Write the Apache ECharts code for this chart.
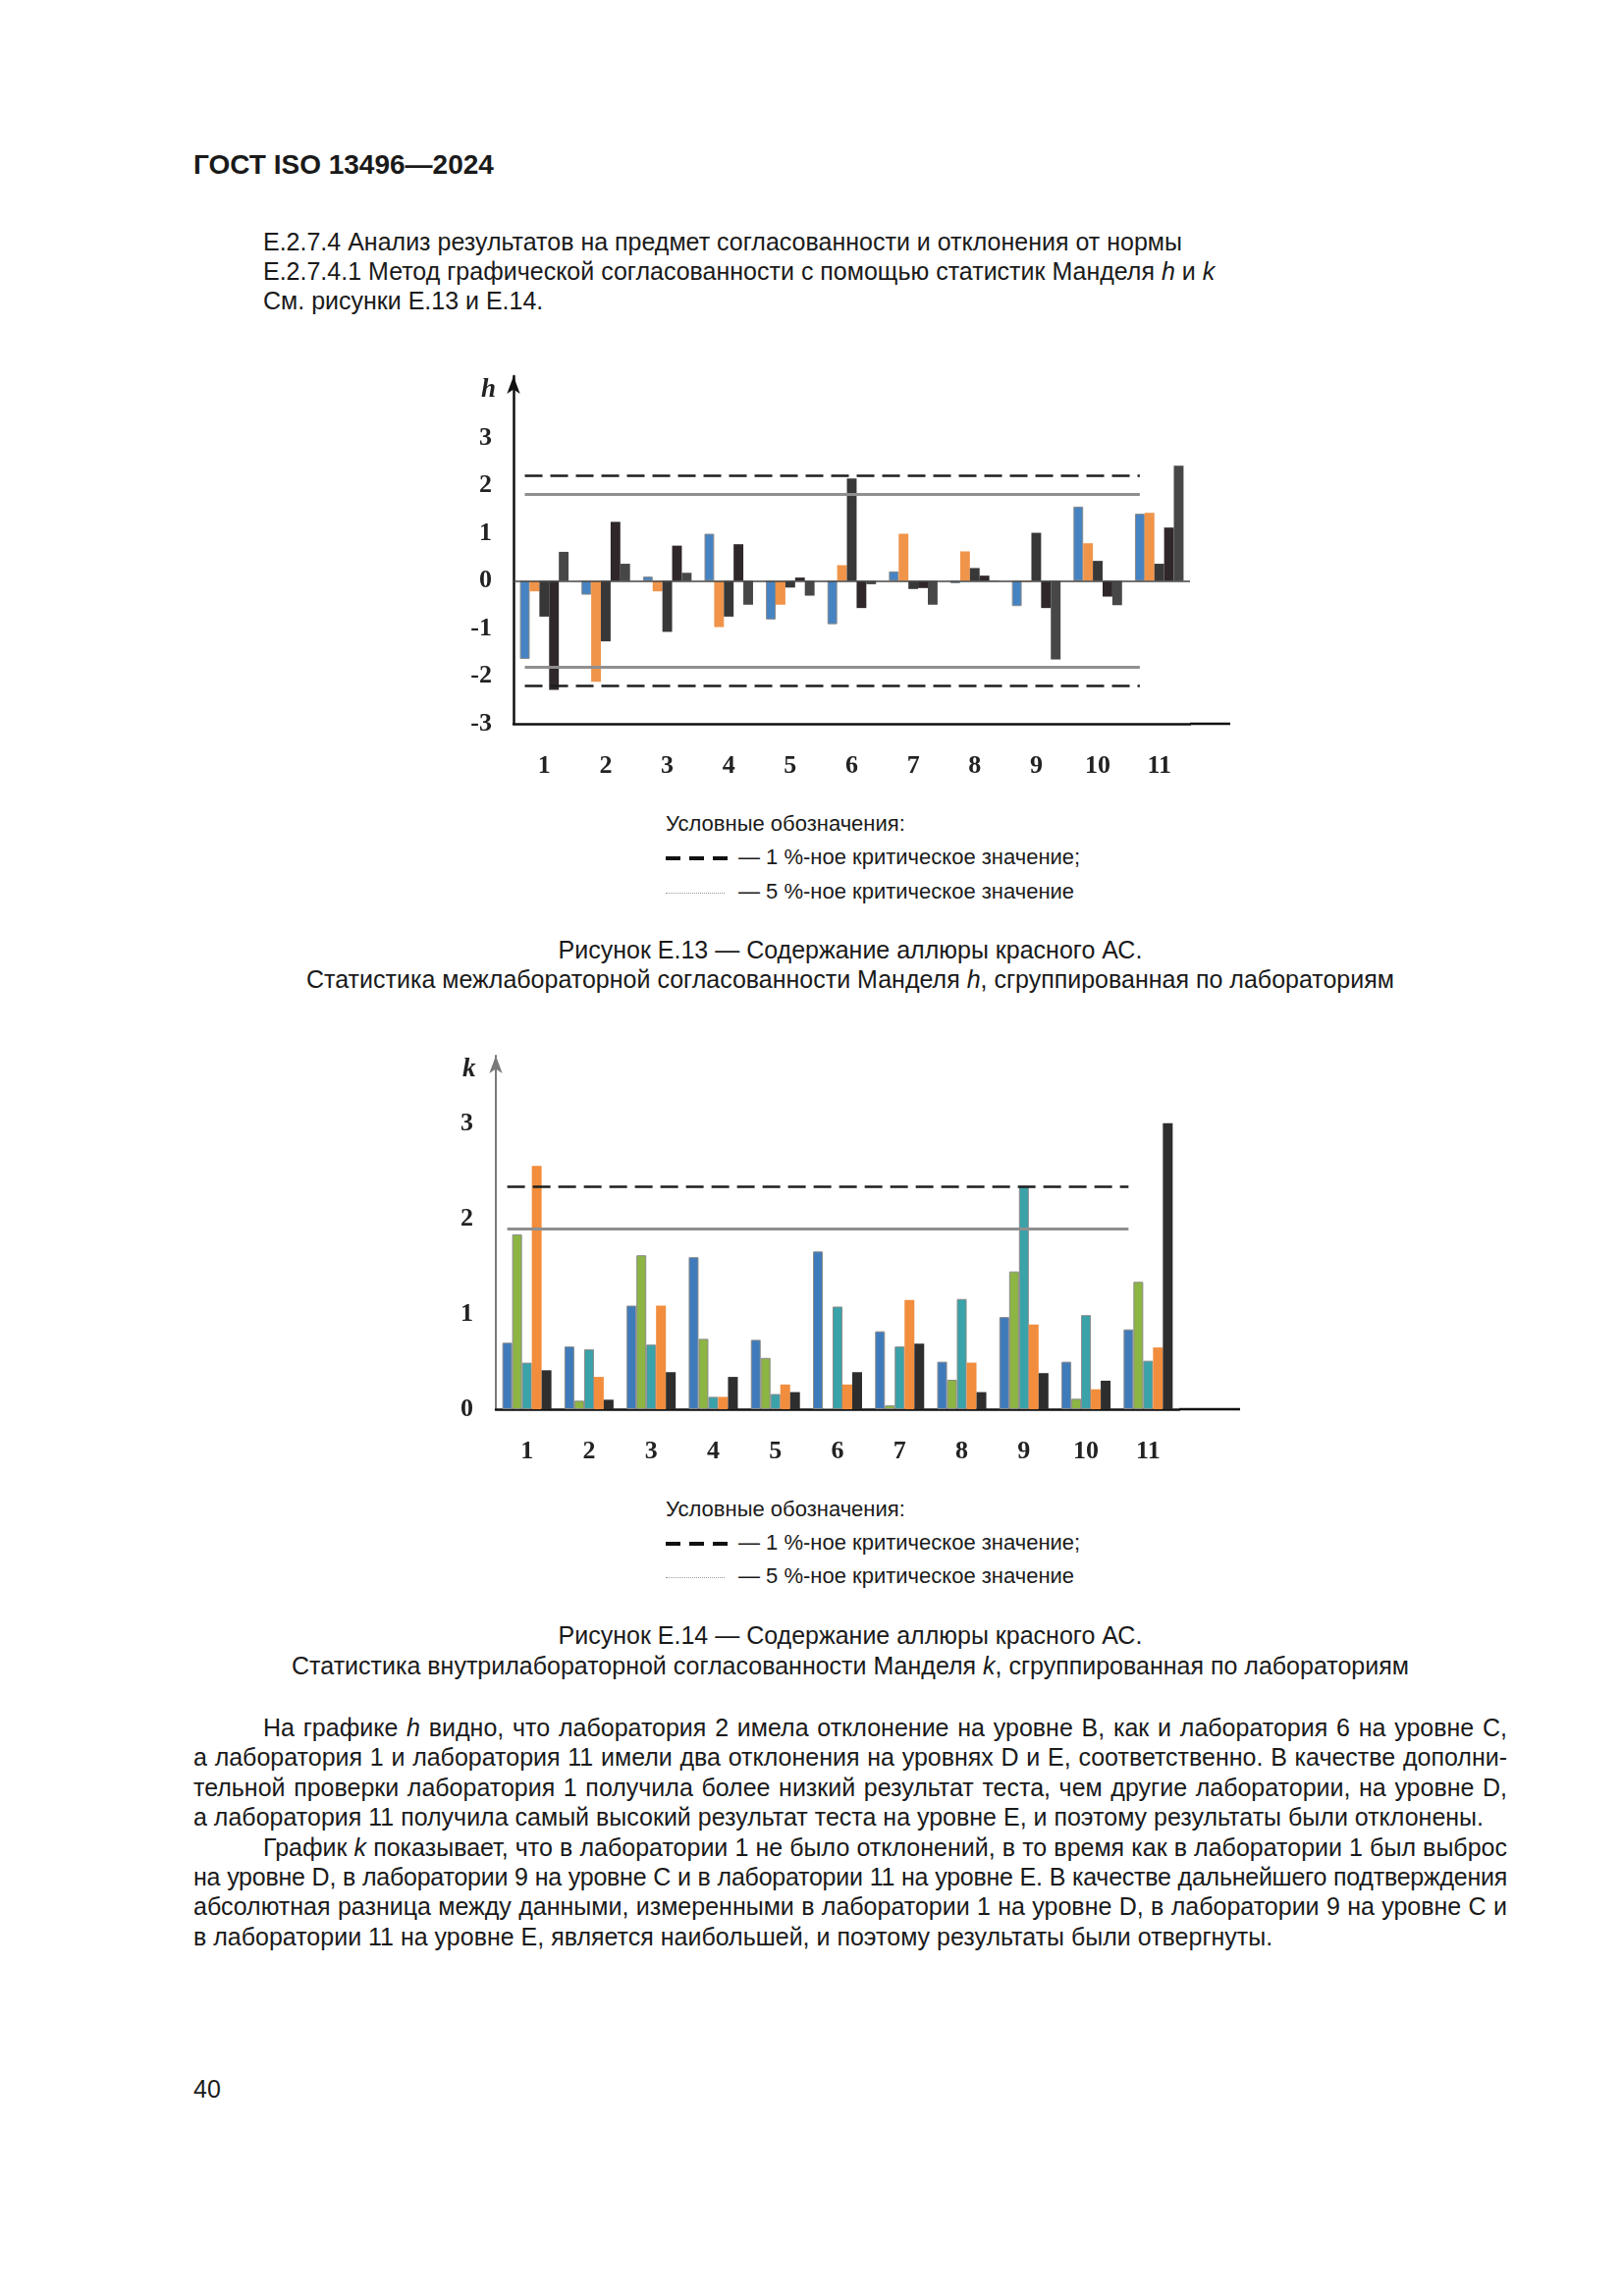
<!DOCTYPE html>
<html lang="ru">
<head>
<meta charset="utf-8">
<title>ГОСТ ISO 13496—2024, с. 40</title>
<script src="https://cdn.jsdelivr.net/npm/echarts@6/dist/echarts.min.js"></script>
<style>
  html, body { margin: 0; padding: 0; background: #fff; }
  .page {
    position: relative;
    width: 1653px;
    height: 2338px;
    font-family: "Liberation Sans", Arial, sans-serif;
    font-size: 25px;
    line-height: 30px;
    color: #1a1a1a;
  }
  .abs { position: absolute; white-space: nowrap; }
  .hdr { font-weight: bold; font-size: 28px; }
  .legend { font-size: 22px; }
  .caption { left: 197px; width: 1338px; text-align: center; }
  .jl { left: 197px; width: 1338px; text-align: justify; text-align-last: justify; }
  .last { text-align: left; text-align-last: left; }
  .ind { text-indent: 71px; }
  .tight { letter-spacing: -0.25px; }
  .chart { position: absolute; width: 860px; height: 450px; }
  .dash {
    display: inline-block; width: 64px; height: 4px; vertical-align: middle;
    background: repeating-linear-gradient(to right, #111 0 15px, transparent 15px 24px);
    margin-right: 10px;
  }
  .dots {
    display: inline-block; width: 60px; height: 0; vertical-align: middle;
    border-top: 1px dotted #9a9a9a; margin-right: 14px;
  }
  i { font-style: italic; }
</style>
</head>
<body>
<div class="page">
  <div class="abs hdr" style="left:197px; top:153px;">ГОСТ ISO 13496—2024</div>

  <div class="abs" style="left:268px; top:231px;">Е.2.7.4 Анализ результатов на предмет согласованности и отклонения от нормы</div>
  <div class="abs" style="left:268px; top:261px;">Е.2.7.4.1 Метод графической согласованности с помощью статистик Манделя <i>h</i> и <i>k</i></div>
  <div class="abs" style="left:268px; top:291px;">См. рисунки Е.13 и Е.14.</div>

  <div id="chartH" class="chart" style="left:440px; top:360px;"></div>

  <div class="abs legend" style="left:678px; top:824px;">Условные обозначения:</div>
  <div class="abs legend" style="left:678px; top:858px;"><span class="dash"></span>— 1 %-ное критическое значение;</div>
  <div class="abs legend" style="left:678px; top:893px;"><span class="dots"></span>— 5 %-ное критическое значение</div>

  <div class="abs caption" style="top:952px;">Рисунок Е.13 — Содержание аллюры красного АС.</div>
  <div class="abs caption" style="top:982px;">Статистика межлабораторной согласованности Манделя <i>h</i>, сгруппированная по лабораториям</div>

  <div id="chartK" class="chart" style="left:440px; top:1050px;"></div>

  <div class="abs legend" style="left:678px; top:1522px;">Условные обозначения:</div>
  <div class="abs legend" style="left:678px; top:1556px;"><span class="dash"></span>— 1 %-ное критическое значение;</div>
  <div class="abs legend" style="left:678px; top:1590px;"><span class="dots"></span>— 5 %-ное критическое значение</div>

  <div class="abs caption" style="top:1650px;">Рисунок Е.14 — Содержание аллюры красного АС.</div>
  <div class="abs caption" style="top:1681px;">Статистика внутрилабораторной согласованности Манделя <i>k</i>, сгруппированная по лабораториям</div>

  <div class="abs jl ind" style="top:1744px;">На графике <i>h</i> видно, что лаборатория 2 имела отклонение на уровне B, как и лаборатория 6 на уровне C,</div>
  <div class="abs jl" style="top:1774px;">а лаборатория 1 и лаборатория 11 имели два отклонения на уровнях D и E, соответственно. В качестве дополни-</div>
  <div class="abs jl" style="top:1805px;">тельной проверки лаборатория 1 получила более низкий результат теста, чем другие лаборатории, на уровне D,</div>
  <div class="abs jl last" style="top:1835px;">а лаборатория 11 получила самый высокий результат теста на уровне E, и поэтому результаты были отклонены.</div>
  <div class="abs jl ind" style="top:1866px;">График <i>k</i> показывает, что в лаборатории 1 не было отклонений, в то время как в лаборатории 1 был выброс</div>
  <div class="abs jl tight" style="top:1896px;">на уровне D, в лаборатории 9 на уровне C и в лаборатории 11 на уровне E. В качестве дальнейшего подтверждения</div>
  <div class="abs jl" style="top:1926px;">абсолютная разница между данными, измеренными в лаборатории 1 на уровне D, в лаборатории 9 на уровне C и</div>
  <div class="abs jl last" style="top:1957px;">в лаборатории 11 на уровне E, является наибольшей, и поэтому результаты были отвергнуты.</div>

  <div class="abs" style="left:197px; top:2112px; font-size:25px;">40</div>
</div>

<script>
// лаборатории
const labs = ['1', '2', '3', '4', '5', '6', '7', '8', '9', '10', '11']

// статистика h по уровням A..E
const hA = [-1.64, -0.29, 0.09, 0.99, -0.81, -0.91, 0.20, -0.05, -0.53, 1.56, 1.41]
const hB = [-0.22, -2.12, -0.22, -0.97, -0.50, 0.33, 0.99, 0.62, -0.02, 0.79, 1.43]
const hC = [-0.75, -1.27, -1.07, -0.75, -0.14, 2.15, -0.17, 0.27, 1.01, 0.42, 0.36]
const hD = [-2.29, 1.24, 0.74, 0.77, 0.07, -0.57, -0.15, 0.11, -0.57, -0.33, 1.12]
const hE = [0.61, 0.36, 0.17, -0.50, -0.31, -0.07, -0.50, -0.01, -1.65, -0.51, 2.42]
const hCrit1 = 2.21
const hCrit5 = 1.81
const hTicks = [-3, -2, -1, 0, 1, 2, 3]

// статистика k по уровням A..E
const kA = [0.70, 0.66, 1.09, 1.60, 0.73, 1.66, 0.82, 0.50, 0.97, 0.50, 0.84]
const kB = [1.84, 0.09, 1.62, 0.74, 0.54, 0.01, 0.04, 0.31, 1.45, 0.11, 1.34]
const kC = [0.49, 0.63, 0.68, 0.13, 0.16, 1.08, 0.66, 1.16, 2.35, 0.99, 0.51]
const kD = [2.56, 0.34, 1.09, 0.13, 0.26, 0.26, 1.15, 0.49, 0.89, 0.21, 0.65]
const kE = [0.41, 0.10, 0.39, 0.34, 0.18, 0.39, 0.69, 0.18, 0.38, 0.30, 3.01]
const kCrit1 = 2.34
const kCrit5 = 1.90
const kTicks = [0, 1, 2, 3]

const axisFont = {
  fontFamily: '"Liberation Serif", "DejaVu Serif", serif',
  fontWeight: 'bold',
  fontSize: 26,
  color: '#222',
}

const dashed = { color: '#1e1e1e', width: 2.5, type: [18, 8] }
const solid = { color: '#8f8f8f', width: 3, type: 'solid' }

function critLines(c1, c5, withNeg) {
  const d = [
    [{ coord: [labs[0], c1], lineStyle: dashed }, { coord: [labs[10], c1] }],
    [{ coord: [labs[0], c5], lineStyle: solid }, { coord: [labs[10], c5] }],
  ]
  if (withNeg) {
    d.push([{ coord: [labs[0], -c1], lineStyle: dashed }, { coord: [labs[10], -c1] }])
    d.push([{ coord: [labs[0], -c5], lineStyle: solid }, { coord: [labs[10], -c5] }])
    d.push({ yAxis: 0, lineStyle: { color: '#444', width: 1.5, type: 'solid' } })
  }
  return {
    silent: true,
    symbol: ['none', 'none'],
    label: { show: false },
    data: d,
  }
}

function barSeries(data, color, border) {
  return {
    type: 'bar',
    data: data,
    barGap: '0%',
    barCategoryGap: '21%',
    itemStyle: {
      color: color,
      borderColor: border || color,
      borderWidth: border ? 1 : 0,
    },
  }
}

// ---- рисунок Е.13 ----
const chartH = echarts.init(document.getElementById('chartH'), null, { renderer: 'canvas' })
const hSeries = [
  barSeries(hA, '#4683c2', '#8a8a8a'),
  barSeries(hB, '#f0944a'),
  barSeries(hC, '#383838'),
  barSeries(hD, '#2f2729'),
  barSeries(hE, '#474747'),
]
hSeries[0].markLine = critLines(hCrit1, hCrit5, true)
hSeries[0].markLine.z = 5

chartH.setOption({
  animation: false,
  grid: { left: 83, top: 23, width: 689, height: 354 },
  xAxis: {
    type: 'category',
    data: labs,
    axisLine: { onZero: false, lineStyle: { color: '#111', width: 2.5 } },
    axisTick: { show: false },
    axisLabel: Object.assign({ margin: 30 }, axisFont),
  },
  yAxis: {
    type: 'value',
    min: hTicks[0],
    max: 4.3,
    interval: 1,
    splitLine: { show: false },
    axisTick: { show: false },
    axisLine: {
      show: true,
      symbol: ['none', 'arrow'],
      symbolSize: [10, 18],
      lineStyle: { color: '#111', width: 2.5 },
    },
    axisLabel: Object.assign({
      margin: 22,
      formatter: v => (hTicks.indexOf(v) >= 0 ? String(v) : ''),
    }, axisFont),
  },
  graphic: [
    { type: 'text', left: 50, top: 24,
      style: { text: 'h', font: 'italic bold 27px "Liberation Serif", serif', fill: '#222' } },
    { type: 'line', shape: { x1: 772, y1: 377, x2: 813, y2: 377 },
      style: { stroke: '#111', lineWidth: 2.5 } },
  ],
  series: hSeries,
})

// ---- рисунок Е.14 ----
const chartK = echarts.init(document.getElementById('chartK'), null, { renderer: 'canvas' })
const kSeries = [
  barSeries(kA, '#3f7bbb', '#8a8a8a'),
  barSeries(kB, '#8cb543', '#8a8a8a'),
  barSeries(kC, '#3aa2a9', '#8a8a8a'),
  barSeries(kD, '#f18d3d'),
  barSeries(kE, '#2e2e2e'),
]
kSeries[0].markLine = critLines(kCrit1, kCrit5, false)
kSeries[0].markLine.z = 5

chartK.setOption({
  animation: false,
  grid: { left: 65, top: 25, width: 696, height: 360 },
  xAxis: {
    type: 'category',
    data: labs,
    axisLine: { lineStyle: { color: '#111', width: 2.5 } },
    axisTick: { show: false },
    axisLabel: Object.assign({ margin: 30 }, axisFont),
  },
  yAxis: {
    type: 'value',
    min: kTicks[0],
    max: 3.72,
    interval: 1,
    splitLine: { show: false },
    axisTick: { show: false },
    axisLine: {
      show: true,
      symbol: ['none', 'arrow'],
      symbolSize: [10, 18],
      lineStyle: { color: '#7a7a7a', width: 2 },
    },
    axisLabel: Object.assign({
      margin: 23,
      formatter: v => (kTicks.indexOf(v) >= 0 ? String(v) : ''),
    }, axisFont),
  },
  graphic: [
    { type: 'text', left: 31, top: 26,
      style: { text: 'k', font: 'italic bold 27px "Liberation Serif", serif', fill: '#222' } },
    { type: 'line', shape: { x1: 761, y1: 385, x2: 823, y2: 385 },
      style: { stroke: '#111', lineWidth: 2.5 } },
  ],
  series: kSeries,
})
</script>
</body>
</html>
